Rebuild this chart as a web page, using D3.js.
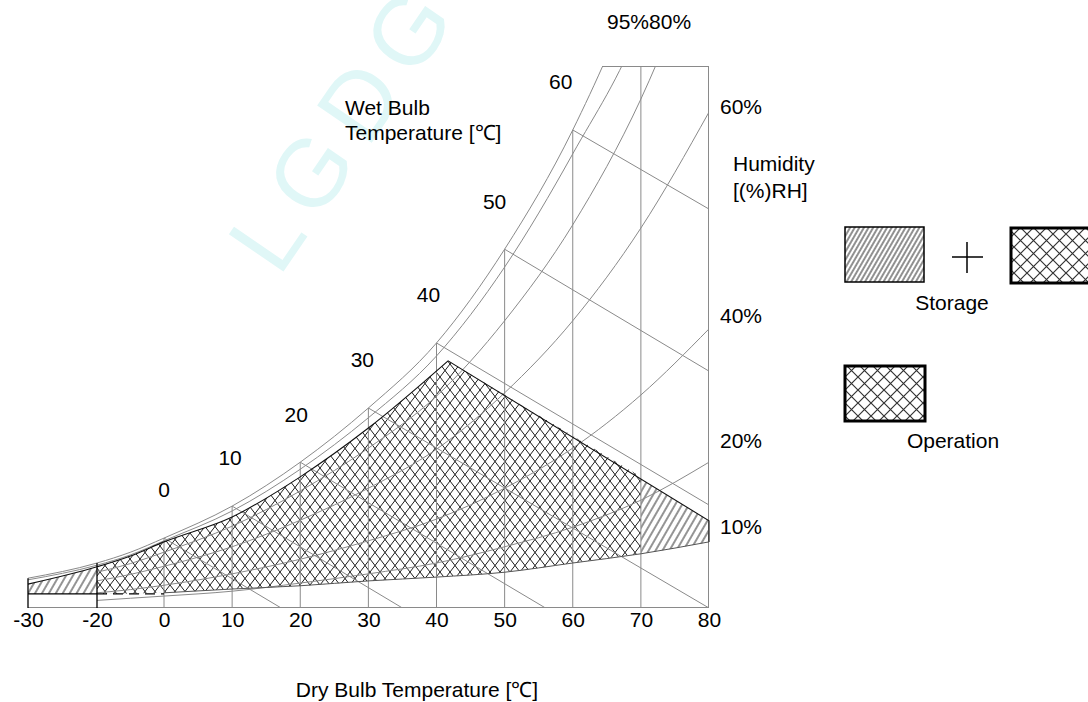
<!DOCTYPE html>
<html>
<head>
<meta charset="utf-8">
<script src="https://cdn.jsdelivr.net/npm/d3@7"></script>
<style>
  body { margin: 0; background: #fff; }
  svg { display: block; font-family: "Liberation Sans", Arial, sans-serif; }
</style>
</head>
<body>
<svg id="chart" width="1088" height="702"></svg>
<script>
// ---- data (humidity in chart units, 100 = top of the frame) ----
const xTicks = [-30, -20, 0, 10, 20, 30, 40, 50, 60, 70, 80];
const gridTemps = [0, 10, 20, 30, 40, 50, 60, 70, 80];

const satTemps = [-30, -20, -10, 0, 10, 20, 30, 40, 50, 60, 70, 80];
const saturation = [5.5, 8.3, 10.3, 12.9, 18.8, 26.9, 36.9, 48.9, 66.2, 88.2, 117.3, 156];
const rh95 = [5.2, 7.9, 9.8, 12.4, 17.9, 25.6, 35.1, 46.5, 62.9, 83.8, 108, 148];

const rhTemps = [-20, -10, 0, 10, 20, 30, 40, 50, 60, 70, 80];
const rh80 = [6.6, 8.2, 10.3, 15.1, 21.6, 29.5, 39.1, 53.0, 70.7, 93.9, 124.9];
const rh60 = [5.0, 6.2, 7.7, 11.3, 16.2, 22.1, 29.3, 39.7, 53.0, 70.1, 91.5];
const rh40 = [2.8, 3.4, 4.2, 6.3, 9.0, 12.4, 16.4, 22.1, 29.5, 39.3, 51.5];
const rh20 = [1.4, 1.8, 2.2, 3.1, 4.6, 6.3, 8.3, 11.3, 14.9, 19.9, 26.9];

// wet bulb lines: start on saturation, end at frame
const wetBulb = [0, 10, 20, 30, 40, 50, 60];
const wetBulbEndT = [17.2, 35, 56, 80, 80, 80, 80];
const wetBulbEndH = [0, 0, 0, 0, 19.0, 43.7, 73.6];

// envelope of storage / operation area
const envTopTemps = [-30, -20, -10, 0, 10, 20, 30, 41.7];
const envTop = [4.4, 7.6, 9.6, 12.2, 16.8, 24.2, 33.2, 45.6];
const envBottomTemps = [-30, -20, 0, 10, 20, 30, 40, 50, 60, 70, 80];
const envBottom = [2.6, 2.6, 2.8, 3.5, 4.1, 5.0, 5.7, 6.6, 8.3, 10.0, 12.2];
const storageEnd = [80, 16.1];
const operationEnd = [70, 24.2];
const operationStart = -20;

const satTopT = 64.3;
const rhLabels = ['60%', '40%', '20%', '10%'];
const rhLabelLevels = [92.4, 53.9, 30.8, 14.9];

// ---- scales ----
const svg = d3.select('#chart');
const x = d3.scaleLinear().domain([-30, -20, 0, 80]).range([28, 97, 164, 709]);
const y = d3.scaleLinear().domain([0, 100]).range([608, 66]);

const grey = '#8a8a8a';
const fontSize = 21;

const defs = svg.append('defs');
defs.append('clipPath').attr('id', 'frame')
    .append('rect')
    .attr('x', x(-30)).attr('y', y(100))
    .attr('width', x(80) - x(-30)).attr('height', y(0) - y(100));

function hatch(id, w, angle, color, sw) {
    const p = defs.append('pattern')
        .attr('id', id)
        .attr('patternUnits', 'userSpaceOnUse')
        .attr('width', w).attr('height', w)
        .attr('patternTransform', `rotate(${angle})`);
    p.append('line')
        .attr('x1', w / 2).attr('y1', 0).attr('x2', w / 2).attr('y2', w)
        .style('stroke', color).style('stroke-width', sw);
}
function cross(id, w, h, color, sw) {
    const p = defs.append('pattern')
        .attr('id', id)
        .attr('patternUnits', 'userSpaceOnUse')
        .attr('width', w).attr('height', h);
    p.append('path')
        .attr('d', `M0,0L${w},${h}M${w},0L0,${h}M${-w},0L${w},${2 * h}M0,${-h}L${2 * w},${h}`)
        .style('stroke', color).style('stroke-width', sw).style('fill', 'none');
}
hatch('hatch', 6, 30, '#111', 0.9);
hatch('hatchDense', 4, 30, '#222', 1);
cross('crossChart', 10, 13, '#111', 0.95);
cross('crossLegend', 13, 13, '#333', 1.2);

// ---- watermark ----
svg.append('text')
    .attr('transform', 'translate(279,278) rotate(-55.6)')
    .style('font-size', '96px')
    .style('letter-spacing', '14px')
    .style('fill', '#e0f7f7')
    .text('LGDG');

// ---- helpers ----
const curve = d3.line()
    .x(d => x(d[0]))
    .y(d => y(d[1]))
    .curve(d3.curveMonotoneX);
const zip = (ts, hs) => ts.map((t, i) => [t, hs[i]]);
const satAt = t => saturation[satTemps.indexOf(t)];

// ---- hatched areas ----
const topPts = zip(envTopTemps, envTop);
const bottomPts = zip(envBottomTemps, envBottom);

function envelope(fromT, end) {
    const top = topPts.filter(d => d[0] >= fromT);
    const bottom = bottomPts.filter(d => d[0] >= fromT && d[0] <= end[0]).reverse();
    return curve(top) + `L${x(end[0])},${y(end[1])}` + curve(bottom).replace(/^M/, 'L') + 'Z';
}

const area = svg.append('g').attr('class', 'areas');
area.append('path')
    .attr('d', envelope(-30, storageEnd))
    .style('fill', 'url(#hatch)');
area.append('path')
    .attr('d', envelope(operationStart, operationEnd))
    .style('fill', '#fff');
area.append('path')
    .attr('d', envelope(operationStart, operationEnd))
    .style('fill', 'url(#crossChart)');

// ---- chart lines ----
const lines = svg.append('g').attr('clip-path', 'url(#frame)')
    .style('fill', 'none').style('stroke', grey).style('stroke-width', 1);

lines.selectAll('.grid')
    .data(gridTemps)
    .enter().append('line')
    .attr('class', 'grid')
    .attr('x1', d => x(d)).attr('x2', d => x(d))
    .attr('y1', y(0)).attr('y2', d => y(Math.min(100, satAt(d))));

lines.selectAll('.wet')
    .data(wetBulb)
    .enter().append('line')
    .attr('class', 'wet')
    .attr('x1', d => x(d)).attr('y1', d => y(satAt(d)))
    .attr('x2', (d, i) => x(wetBulbEndT[i])).attr('y2', (d, i) => y(wetBulbEndH[i]));

[saturation, rh95].forEach(vals => {
    lines.append('path').attr('d', curve(zip(satTemps, vals)));
});
[rh80, rh60, rh40, rh20].forEach(vals => {
    lines.append('path').attr('d', curve(zip(rhTemps, vals)));
});

// frame
lines.append('line')
    .attr('x1', x(satTopT)).attr('x2', x(80)).attr('y1', y(100) + 0.5).attr('y2', y(100) + 0.5);
lines.append('line')
    .attr('x1', x(80) - 0.5).attr('x2', x(80) - 0.5).attr('y1', y(100)).attr('y2', y(0));
lines.append('line')
    .attr('x1', x(-30)).attr('x2', x(80)).attr('y1', y(0) - 0.5).attr('y2', y(0) - 0.5);

// envelope outline
const outline = svg.append('g').style('fill', 'none').style('stroke', '#111').style('stroke-width', 1.1);
outline.append('path')
    .attr('d', curve(topPts) + `L${x(storageEnd[0])},${y(storageEnd[1])}L${x(80)},${y(envBottom[envBottom.length - 1])}`);
outline.append('path')
    .attr('d', curve(bottomPts.filter(d => d[0] >= 0)))
    .style('stroke', '#555').style('stroke-width', 1);

// below-zero frame
const sub = svg.append('g').style('stroke', '#000').style('stroke-width', 1.3);
[-30, -20].forEach(t => {
    sub.append('line')
        .attr('x1', x(t)).attr('x2', x(t))
        .attr('y1', y(0)).attr('y2', y(satAt(t)));
});
sub.append('line')
    .attr('x1', x(-30)).attr('x2', x(-20))
    .attr('y1', y(envBottom[0])).attr('y2', y(envBottom[0]));
sub.append('line')
    .attr('x1', x(-20)).attr('x2', x(0))
    .attr('y1', y(envBottom[0])).attr('y2', y(envBottom[0]))
    .style('stroke-dasharray', '10,6');

// ---- axes ----
svg.append('g')
    .attr('transform', `translate(0,${y(0)})`)
    .call(d3.axisBottom(x).tickValues(xTicks).tickSize(0).tickPadding(4).tickFormat(d => d))
    .call(g => g.select('.domain').remove())
    .selectAll('text')
    .style('font-size', fontSize + 'px')
    .style('font-family', '"Liberation Sans", Arial, sans-serif')
    .style('fill', '#000');

svg.append('g')
    .attr('transform', `translate(${x(80)},0)`)
    .call(d3.axisRight(y).tickValues(rhLabelLevels).tickSize(0).tickPadding(11)
        .tickFormat((d, i) => rhLabels[i]))
    .call(g => g.select('.domain').remove())
    .selectAll('text')
    .style('font-size', fontSize + 'px')
    .style('font-family', '"Liberation Sans", Arial, sans-serif')
    .style('fill', '#000');

// wet bulb labels
svg.append('g').selectAll('text')
    .data(wetBulb)
    .enter().append('text')
    .attr('x', d => x(d) - d / 5)
    .attr('y', d => y(satAt(d)) - 48)
    .attr('dy', '0.35em')
    .attr('text-anchor', 'middle')
    .style('font-size', fontSize + 'px')
    .text(d => d);

// ---- texts ----
const txt = (tx, ty, s, anchor = 'start') => svg.append('text')
    .attr('x', tx).attr('y', ty).attr('text-anchor', anchor)
    .style('font-size', fontSize + 'px').style('fill', '#000').text(s);

txt(345, 115, 'Wet Bulb');
txt(345, 140, 'Temperature [℃]');
txt(607, 29, '95%80%');
txt(733, 171, 'Humidity');
txt(733, 198, '[(%)RH]');
txt(417, 697, 'Dry Bulb Temperature [℃]', 'middle');

// ---- legend ----
const legend = svg.append('g');
legend.append('rect')
    .attr('x', 845).attr('y', 227).attr('width', 79).attr('height', 55)
    .style('fill', 'url(#hatchDense)').style('stroke', '#000').style('stroke-width', 1.5);
legend.append('path')
    .attr('d', 'M952,257H983M967,242V273')
    .style('stroke', '#000').style('stroke-width', 1.5);
legend.append('rect')
    .attr('x', 1011).attr('y', 228).attr('width', 90).attr('height', 55)
    .style('fill', 'url(#crossLegend)').style('stroke', '#000').style('stroke-width', 3);
legend.append('rect')
    .attr('x', 845).attr('y', 366).attr('width', 80).attr('height', 55)
    .style('fill', 'url(#crossLegend)').style('stroke', '#000').style('stroke-width', 3);
txt(952, 310, 'Storage', 'middle');
txt(953, 448, 'Operation', 'middle');
</script>
</body>
</html>
